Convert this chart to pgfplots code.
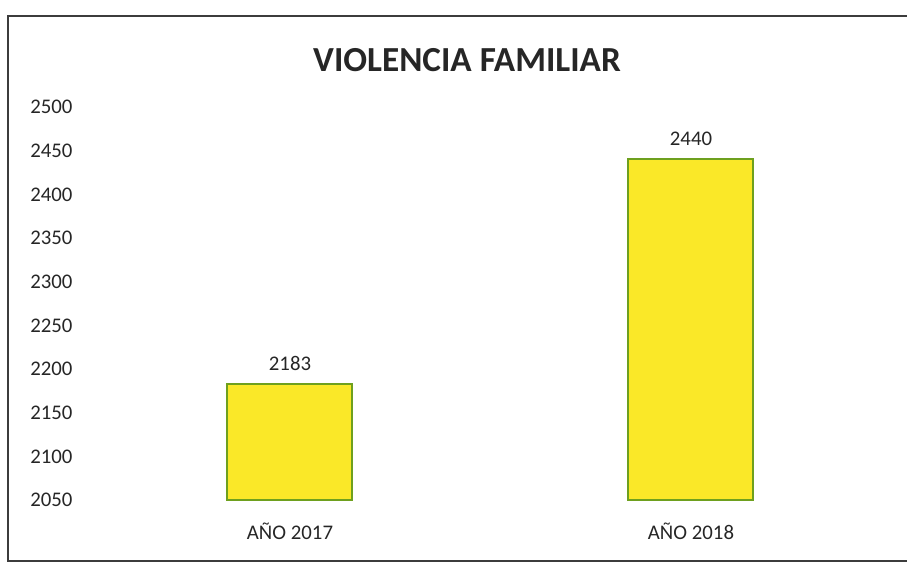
\documentclass[border=0pt]{standalone}
\usepackage{pgfplots}
\pgfplotsset{compat=1.18}
\usepackage{fontspec}
\setmainfont{Carlito}
\definecolor{barfill}{RGB}{250,232,40}
\definecolor{baredge}{RGB}{110,160,30}
\definecolor{frame}{RGB}{60,60,60}
\begin{document}
\begin{tikzpicture}
\useasboundingbox (0,0) rectangle (453.5pt,282pt);
% chart frame (right side cut off in the scan)
\draw[frame, line width=1pt] (453.5pt,274pt) -- (4pt,274pt) -- (4pt,1.5pt) -- (453.5pt,1.5pt);
\node[font=\bfseries\fontsize{17.6}{19}\selectfont, text=black!85] at (233.5pt,252pt) {VIOLENCIA FAMILIAR};
\begin{axis}[
    at={(44.75pt,32pt)}, anchor=south west,
    scale only axis,
    width=401pt, height=196.5pt,
    xmin=-0.5, xmax=1.5,
    ymin=2050, ymax=2500,
    ytick={2050,2100,...,2500},
    xtick=data,
    xticklabels={AÑO 2017, AÑO 2018},
    axis line style={draw=none},
    major tick length=0pt,
    /pgf/number format/assume math mode=true,
    /pgf/number format/1000 sep={},
    ticklabel style={font=\fontsize{10.4}{12}\selectfont, text=black!85},
    yticklabel style={xshift=-5pt},
    xticklabel style={yshift=-8pt},
    ybar, bar width=62.5pt,
    nodes near coords,
    nodes near coords style={font=\fontsize{10.4}{12}\selectfont, text=black!85, yshift=3pt,
      /pgf/number format/1000 sep={}},
    clip=false,
]
\addplot[fill=barfill, draw=baredge, line width=1pt] coordinates {(0,2183) (1,2440)};
\end{axis}
\end{tikzpicture}
\end{document}
